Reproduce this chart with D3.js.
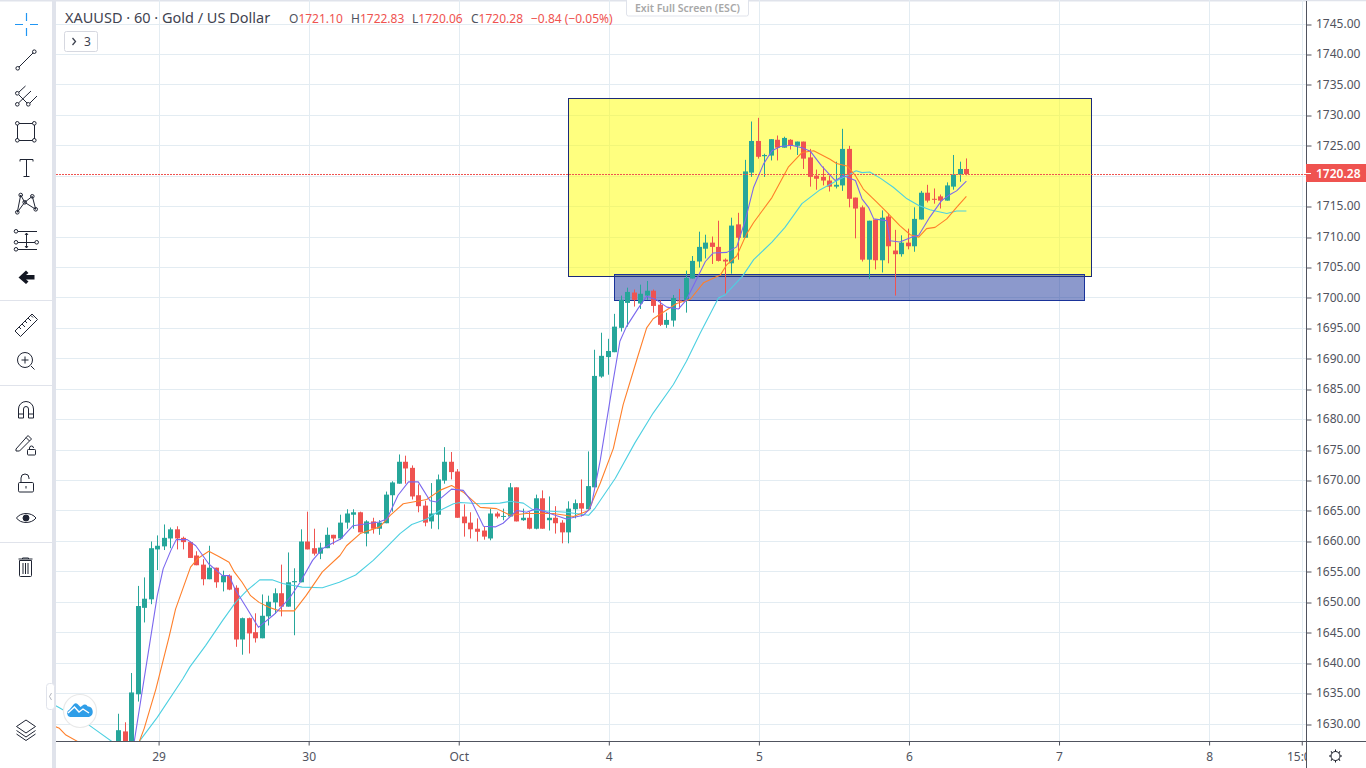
<!DOCTYPE html>
<html><head><meta charset="utf-8">
<script src="https://cdn.jsdelivr.net/npm/d3@7/dist/d3.min.js"></script>
<style>html,body{margin:0;padding:0;background:#fff;overflow:hidden}svg{display:block}text{font-family:"Noto Sans",Roboto,sans-serif}</style>
</head><body><svg id="c" width="1366" height="768"></svg>
<script>
const opens=[1626,1628.7,1626,1634.8,1649,1650.4,1658.6,1659.1,1660.4,1661.9,1660.5,1659.8,1657.6,1656.1,1653.7,1655.6,1653.2,1654.3,1652.3,1643.8,1647.3,1645,1644,1647.6,1649.9,1651.4,1649.2,1653.2,1653.2,1659.9,1658.8,1657.9,1658.8,1661,1660.4,1663,1664.3,
1664.7,1661.2,1663.2,1662,1662.9,1667.5,1669.4,1673,1672,1667.5,1665.8,1663.2,1664.3,1669.9,1673,1671.4,1664,1663,1662,1661.7,1660.4,1664.5,1664,1664,1668.8,1663.4,1663.8,1662,1667,1663.4,1663.8,1663,1661.4,1665.2,1666.2,1665.2,
1668.8,1687,1690.2,1691,1695,1699.1,1700.8,1699,1700.3,1701.1,1698.8,1695.5,1696.2,1699.5,1699.6,1703.1,1705.9,1708,1709,1708.3,1706.2,1705.6,1712,1709.8,1720.5,1725.7,1723.2,1723.3,1725.9,1724.6,1725.9,1724.9,1725.6,1723,1720,1719.8,1719.2,1718.2,1718.4,1724.4,1716.4,1714.8,1706.2,1712.8,1706.1,1713.3,1707.7,1707.1,1709,1708.4,1712.8,1717.2,1716.2,1716.6,1715.9,1718.2,1720.2,1721.1];
const highs=[1631.6,1630.2,1638.3,1652.6,1654,1659.9,1660.9,1662.7,1662.2,1662.4,1660.7,1659.9,1658.3,1657,1659.2,1655.6,1655.1,1654.5,1652.7,1647.4,1647.4,1648.1,1651.2,1651,1652.2,1656.1,1658.1,1655.5,1661.9,1664.8,1662,1659.7,1662.2,1661,1664.3,1665.2,1665.2,
1664.8,1663.4,1663.8,1663.4,1668.1,1669.8,1674.2,1674,1672.4,1669.3,1666.6,1669.5,1670.9,1675.4,1674.6,1671.8,1666,1664.7,1663.7,1662.4,1665.3,1664.8,1665.3,1669.5,1668.8,1665.3,1664.8,1667.6,1668.3,1667.3,1665.7,1663.4,1666.5,1666.8,1670.1,1674.7,
1691.4,1694.2,1693.2,1697.3,1700.3,1701.6,1701.3,1702.1,1702.7,1701.3,1699.5,1697.5,1700.4,1701.4,1704.4,1706.8,1710.8,1710.3,1710,1712.6,1706.4,1713.1,1713.9,1722.6,1728.9,1729.5,1723.6,1726,1726.6,1726.4,1726,1725.6,1725.6,1724.4,1721,1721.5,1720,1722.3,1727.7,1724.9,1716.4,1715.1,1712.6,1712.8,1714.3,1713.8,1711.1,1710.2,1711.3,1714.8,1717.5,1718.5,1717.9,1716.9,1718.9,1723.4,1722.3,1722.83];
const lows=[1625,1624.5,1624,1633.6,1646.6,1649.6,1655.2,1658.5,1658.8,1658.6,1658.6,1657.2,1656,1652.7,1653.7,1652.3,1651.7,1651.9,1642.6,1641.3,1641.5,1643.3,1644,1646.1,1648,1647.6,1649.2,1644.5,1653.2,1658.6,1657.6,1657,1658.8,1659.4,1660.2,1662,1662,
1661.4,1659.1,1661.2,1661,1662.9,1664.8,1669.4,1669.4,1666.8,1664.7,1662.4,1662,1661.9,1669.4,1670.1,1663.8,1660.7,1660.4,1659.9,1660.2,1660.1,1663.7,1663.4,1664,1663.2,1663.3,1661.9,1661.9,1662,1661.7,1661.2,1659.6,1659.6,1663.7,1664,1665.2,
1668.8,1686.8,1687.3,1691,1694.4,1695.2,1698.5,1698.1,1699.6,1697.5,1695.3,1695,1695.2,1698.1,1697.5,1703.1,1704.9,1706.4,1705.5,1705.9,1700.4,1703.9,1706.2,1709.8,1719.8,1722.8,1719.8,1722.5,1722.5,1724.6,1724.3,1723.4,1721.1,1718.2,1717.7,1718.4,1717.4,1717.9,1717.5,1714.8,1709.7,1705.9,1703,1704.6,1704.1,1705.6,1700.3,1706.7,1707.9,1707.5,1712.8,1715.6,1715.4,1714.6,1715.9,1717.7,1719,1720.06];
const closes=[1628.9,1625,1635.1,1649.3,1650.5,1658.8,1659.2,1660.5,1661.9,1660.4,1659.8,1657.2,1656,1653.7,1655.6,1653.2,1654.3,1652,1643.8,1647.3,1644.8,1644,1647.7,1650,1651.4,1649.2,1653.2,1653.4,1659.9,1658.6,1657.9,1658.9,1661,1660.4,1663,1664.5,1664.7,
1661.4,1663.2,1662,1663,1667.6,1669.6,1673,1671.9,1667.3,1665.7,1663,1664.5,1670.1,1673,1671.3,1663.8,1662.9,1661.9,1661.5,1660.7,1664.5,1664,1664.1,1668.8,1663.2,1663.8,1662,1667,1662,1663.8,1662.9,1661.4,1665.3,1666.2,1665.3,1669,
1687.1,1690.4,1691.2,1695.2,1699.6,1700.9,1699.6,1700.6,1701.1,1698.6,1695.5,1696.3,1699.9,1699.4,1703.2,1706,1708.3,1709,1708.3,1706,1705.9,1711.8,1709.8,1720.7,1725.7,1723.1,1723.4,1726,1724.6,1726.2,1724.9,1725.6,1722.8,1719.8,1719.5,1719.2,1718.2,1718.5,1724.4,1716.2,1714.6,1706.2,1712.6,1706.1,1713.1,1708.4,1707.1,1709,1708.4,1712.9,1717.2,1715.9,1716.1,1715.9,1718.4,1720.2,1721.1,1720.28];
const maFast=[[-9,1626.5],[-7.5,1625],[3.45,1626.9],[7,1651],[7.9,1655.4],[9.07,1658.4],[9.9,1660.2],[11.6,1660.2],[12.9,1659.2],[14.9,1656.2],[17,1654.3],[18,1654.3],[18.9,1652.1],[20.8,1648.8],[22.5,1645.8],[24.9,1647.9],[26,1649.1],[27.2,1650.5],[28.9,1653.2],[30.8,1656.8],[32.3,1658.7],[33.6,1659.5],[35.1,1660.3],[37,1662.5],[41,1663.1],[42.2,1663.6],[43.9,1667.5],[45.5,1669.7],[47,1669.7],[48.8,1666.6],[49.8,1666.4],[52.1,1668.5],[53.9,1668.3],[55.2,1666.4],[57,1662.4],[58.8,1662.3],[60,1662.9],[62.1,1665],[63.6,1664.7],[65.1,1665.3],[67.2,1664.5],[69.7,1663.6],[72.3,1664.2],[73.3,1665.3],[73.6,1666.2],[74.9,1673.3],[76.9,1686.5],[77.9,1692.8],[78.9,1695.2],[80.7,1698.2],[82,1700.2],[83.5,1699.6],[85.1,1698.4],[86.9,1698.1],[88.1,1699.6],[91,1705.9],[92.2,1707.3],[94.3,1707.4],[95.8,1708.3],[97.1,1712.6],[98.4,1718.1],[99.9,1721.9],[101.2,1724.1],[102.5,1724.8],[104.2,1725],[105.8,1724.6],[107.1,1724],[108.8,1721.6],[110.9,1719.2],[112.2,1720],[114,1719.2],[115,1716.2],[116,1714.8],[116.8,1712.9],[118.8,1712.6],[119.3,1709.3],[120.8,1709.1],[122.6,1709.9],[123.7,1710.2],[125.4,1713.2],[127.2,1715.9],[128.5,1716.9],[129.5,1717.5],[131,1719.1]];
const maMid=[[-9,1629.7],[-8,1629.2],[-7,1628.1],[-5.3,1627.1],[-3,1625],[3,1625],[4.2,1626.9],[5,1629.2],[6.8,1635.7],[8.8,1644.2],[9.8,1648.8],[11.1,1652.7],[12.1,1655.7],[13.2,1657.1],[14.9,1658.3],[16.5,1657.4],[18,1656.5],[18.8,1654.9],[20,1653.2],[21.3,1651],[22.6,1649.9],[24.1,1649.1],[25.7,1648.5],[28,1648.5],[29.8,1651],[32.3,1654.9],[35,1657.6],[36,1659.2],[38.1,1661.2],[41.1,1662.3],[42.7,1664.2],[44.7,1666.1],[48.3,1666.8],[50.3,1668.3],[52.1,1669.1],[53.9,1668],[56.5,1665.5],[59,1665.3],[61.1,1664.2],[63.6,1664.5],[67.7,1664.5],[70.8,1664],[73.1,1665],[74.9,1669.5],[76.9,1675.2],[78.4,1682.4],[80.5,1689.8],[82,1695],[83,1696.5],[84.3,1697.4],[86.6,1699],[88.7,1699.7],[90.7,1702.4],[93.3,1703.7],[94.3,1705.4],[95.8,1706.8],[97.3,1710.4],[98.4,1712.3],[101.2,1716.4],[103.7,1721.4],[105.8,1723.8],[107.6,1724.1],[110.1,1722.7],[111.1,1722],[112.7,1721.6],[114,1720],[115.2,1717.8],[117.3,1715.6],[118.8,1714],[120.8,1711.8],[122.4,1710.3],[123.7,1709.9],[124.9,1711.3],[126.2,1711.5],[128,1712.9],[129.5,1714.8],[131,1716.6]];
const maSlow=[[-9,1633.2],[-8,1632.6],[-3.4,1629.7],[0.1,1627],[1.5,1626],[3,1626],[4.2,1627],[7,1631],[10.9,1637.3],[12,1639.3],[14.4,1642.8],[17,1646.9],[19,1649.9],[20.8,1651.9],[22.7,1653.6],[24.6,1653.6],[26.2,1653],[29.2,1652.4],[32.3,1652.3],[34.9,1653.2],[37.4,1654.4],[40.1,1656.8],[42.2,1659],[44.2,1661.2],[46,1662.7],[48.3,1663.6],[50.3,1665],[52.4,1666.1],[53.4,1666.3],[56.5,1666.1],[59.5,1666.2],[61.1,1666.5],[63.1,1666.2],[64.6,1665.1],[66.7,1664.9],[69.7,1664.7],[73.1,1664.2],[74.1,1665.4],[77.2,1670.3],[80.2,1676.1],[83,1681],[86.1,1685.7],[88.1,1689.5],[90.2,1694.1],[93,1699.9],[94,1700.4],[96.7,1703.5],[98.4,1706.2],[101.2,1709.1],[103.2,1711.5],[105.8,1715.4],[108.6,1717.7],[111.7,1719.5],[112.7,1720],[114.1,1720.8],[115,1720.5],[116.2,1720.6],[117.8,1719.6],[119.8,1718.1],[121.9,1716.2],[123.7,1715.1],[125.4,1714.4],[128,1713.8],[129.5,1714.2],[131,1714.2]];
const priceTicks=[1745,1740,1735,1730,1725,1720,1715,1710,1705,1700,1695,1690,1685,1680,1675,1670,1665,1660,1655,1650,1645,1640,1635,1630];
const timeTicks=[7.2,30.2,53.2,76.2,99.2,122.2,145.2,168.2,182.4];
const timeLabels=["29","30","Oct","4","5","6","7","8","15:00"];
const lastPrice=1720.28;
const zoneYellow={i0:70,i1:150.2,p0:1732.84,p1:1703.6};
const zoneBlue={i0:77,i1:149.1,p0:1703.85,p1:1699.5};
const legendOHLC=[["O","1721.10",289],["H","1722.83",351],["L","1720.06",412],["C","1720.28",471]];

const svg=d3.select("#c");
const x=d3.scaleLinear().domain([0,100]).range([111.6,764.1]);
const y=d3.scaleLinear().domain([1745,1630]).range([23.5,723.5]);
const GRID="#e3ecf2",AX="#50535e",UP="#26a69a",DN="#ef5350";
svg.append("defs").append("clipPath").attr("id","plot").append("rect").attr("x",56).attr("y",0).attr("width",1250).attr("height",741);
svg.append("rect").attr("x",0).attr("y",0).attr("width",1366).attr("height",1.5).attr("fill","#e0e3eb");
const plot=svg.append("g").attr("clip-path","url(#plot)");
// grid
plot.selectAll(".gh").data(priceTicks).join("line").attr("x1",56).attr("x2",1306).attr("y1",d=>Math.round(y(d))+.5).attr("y2",d=>Math.round(y(d))+.5).attr("stroke",GRID);
plot.selectAll(".gv").data(timeTicks).join("line").attr("y1",0).attr("y2",741).attr("x1",d=>Math.round(x(d))+.5).attr("x2",d=>Math.round(x(d))+.5).attr("stroke",GRID);
// zones
[[zoneYellow,"#ffff00",.5,"#1b2a7a"],[zoneBlue,"#1a3399",.5,"#1a3399"]].forEach(([z,f,o,s])=>{
 plot.append("rect").attr("x",Math.round(x(z.i0))+.5).attr("y",Math.round(y(z.p0))+.5)
  .attr("width",Math.round(x(z.i1)-x(z.i0))).attr("height",Math.round(y(z.p1)-y(z.p0)))
  .attr("fill",f).attr("fill-opacity",o).attr("stroke",s).attr("stroke-width",1);
});
// candles
const idx=d3.range(closes.length);
const cx=i=>Math.round(x(i+1));
const color=i=>closes[i]>=opens[i]?UP:DN;
plot.selectAll(".w").data(idx).join("line").attr("x1",i=>cx(i)+.5).attr("x2",i=>cx(i)+.5).attr("y1",i=>y(highs[i])).attr("y2",i=>y(lows[i])).attr("stroke",color);
plot.selectAll(".b").data(idx).join("rect").attr("x",i=>cx(i)-2).attr("width",5)
 .attr("y",i=>y(Math.max(opens[i],closes[i]))).attr("height",i=>Math.max(1,Math.abs(y(opens[i])-y(closes[i])))).attr("fill",color);
// moving averages
const ln=d3.line().x(d=>x(d[0])).y(d=>y(d[1]));
[[maSlow,"#4dd0e1"],[maMid,"#ff7f2a"],[maFast,"#7b68ee"]].forEach(([s,c])=>plot.append("path").attr("d",ln(s)).attr("fill","none").attr("stroke",c).attr("stroke-width",1.1).attr("stroke-linejoin","round"));
// last price line
plot.append("line").attr("x1",56).attr("x2",1306).attr("y1",Math.round(y(lastPrice))+.5).attr("y2",Math.round(y(lastPrice))+.5).attr("stroke",DN).attr("stroke-dasharray","2,1");
// axes
svg.append("rect").attr("x",1307).attr("y",1.5).attr("width",59).attr("height",767).attr("fill","#fff");
svg.append("rect").attr("x",56).attr("y",742).attr("width",1310).attr("height",26).attr("fill","#fff");
const ay=svg.append("g").attr("transform","translate(1306.5,0)").call(d3.axisRight(y).tickValues(priceTicks).tickSize(5).tickPadding(5).tickFormat(d3.format(".2f")));
ay.select(".domain").remove();
ay.selectAll("line").attr("stroke",AX).attr("transform",d=>`translate(0,${Math.round(y(d))+.5-y(d)})`);
ay.selectAll("text").attr("fill",AX).style("font-size","12px").style("font-family","'Noto Sans'").attr("x",9.5);
svg.append("clipPath").attr("id","tx").append("rect").attr("x",56).attr("y",742).attr("width",1250).attr("height",26);
const ax=svg.append("g").attr("clip-path","url(#tx)").append("g").attr("transform","translate(0,741.5)").call(d3.axisBottom(x).tickValues(timeTicks).tickSize(4).tickPadding(7).tickFormat((d,i)=>timeLabels[i]));
ax.select(".domain").remove();
ax.selectAll("line").attr("stroke",AX);
ax.selectAll("text").attr("fill",AX).style("font-size","12px").style("font-family","'Noto Sans'");
svg.append("line").attr("x1",56).attr("x2",1366).attr("y1",741.5).attr("y2",741.5).attr("stroke",AX);
svg.append("line").attr("x1",1306.5).attr("x2",1306.5).attr("y1",1).attr("y2",768).attr("stroke",AX);
// last label
svg.append("rect").attr("x",1306).attr("y",164).attr("width",60).attr("height",18).attr("fill",DN);
svg.append("line").attr("x1",1306).attr("x2",1311).attr("y1",173.5).attr("y2",173.5).attr("stroke","#fff");
svg.append("text").attr("x",1316).attr("y",177.5).attr("fill","#fff").style("font-size","12px").style("font-weight","600").text(lastPrice.toFixed(2));
// legend
svg.append("text").attr("x",65).attr("y",23).attr("fill","#3f4350").style("font-size","14.5px").text("XAUUSD · 60 · Gold / US Dollar");
legendOHLC.forEach(([k,v,px])=>{
 const t=svg.append("text").attr("x",px).attr("y",23).style("font-size","12px");
 t.append("tspan").attr("fill",AX).text(k);
 t.append("tspan").attr("fill",DN).text(v);
});
svg.append("text").attr("x",531).attr("y",23).attr("fill",DN).style("font-size","12px").text("−0.84 (−0.05%)");
svg.append("rect").attr("x",64.5).attr("y",31.5).attr("width",33).attr("height",20).attr("rx",2).attr("fill","#fff").attr("stroke","#d6d8e0");
svg.append("path").attr("d","M72.5 38l3 3.5-3 3.5").attr("fill","none").attr("stroke","#3f4350").attr("stroke-width",1.3);
svg.append("text").attr("x",84).attr("y",46).attr("fill","#3f4350").style("font-size","12px").text("3");
svg.append("rect").attr("x",626.5).attr("y",-3).attr("width",122).attr("height",19).attr("rx",2).attr("fill","#fff").attr("stroke","#e0e3eb");
svg.append("text").attr("x",687.5).attr("y",12).attr("text-anchor","middle").attr("fill","#a8a8a8").style("font-size","10.5px").style("font-weight","600").text("Exit Full Screen (ESC)");
// toolbar
svg.append("rect").attr("x",52).attr("y",0).attr("width",4).attr("height",768).attr("fill","#e0e3eb");
[0,101,385,542].forEach(v=>{});
[[300],[385],[542]].forEach(([v])=>svg.append("line").attr("x1",0).attr("x2",52).attr("y1",v+.5).attr("y2",v+.5).attr("stroke","#e0e3eb"));
const I=svg.append("g").attr("fill","none").attr("stroke","#1f2433").attr("stroke-width",1);
const p=d=>I.append("path").attr("d",d);
const c=(a,b,r=1.8)=>I.append("circle").attr("cx",a).attr("cy",b).attr("r",r);
// crosshair
I.append("path").attr("stroke","#2196f3").attr("stroke-width",1.2).attr("d","M15 24.5h8M30 24.5h8M26.5 13v8M26.5 28v8");
// trend
p("M19 67L33 53");c(17.7,68.3);c(34.3,51.7);
// fork
p("M19 92L25.5 86M18.5 103L31 91M30 103L37 96M19 95L27 103");c(17.3,93.3);c(17.3,104.3);c(28.3,104.3);
// rect
p("M19 123.5H32.5M19 140.5H32.5M17.5 125V139M34.5 125V139");c(17.3,123.3);c(34.3,123.3);c(17.3,140.3);c(34.3,140.3);
// T
p("M20 159.5H33M20 159.5v2M33 159.5v2M26.5 159.5V176.5M23.5 176.5H29.5");
// pattern
p("M17.3 212.3L20.7 195L24.7 202.3L32.3 196.3L35.7 209.3L24.7 202.3L17.3 212.3");c(17.3,212.3);c(20.7,195);c(24.7,202.3);c(32.3,196.3);c(35.7,209.3);
// fib
p("M18 231.5H37M18 242.5H35M18 249.5H37M26.5 233V248M25 235l1.5-2 1.5 2M25 246l1.5 2 1.5-2");c(16,231.3);c(16,242.3);c(16,249.3);c(36.7,242.3);
// back arrow
I.append("path").attr("fill","#131722").attr("stroke","none").attr("d","M26 270.5l2.5 2.5-2.5 2h8.5v4.5H26l2.5 2-2.5 2.5-7.5-6.5z");
// ruler
p("M15 331L32 314L37.5 319.5L20.5 336.5ZM19 327l2 2M22 324l3 3M25 321l2 2M28 318l3 3M31 315.5l2 2");
// zoom
c(25,360,7.5);p("M31 366L34.5 369.5M21.5 360h7M25 356.5v7");
// magnet
p("M18.5 418V409a7.5 7.5 0 0 1 15 0V418H28.5V409a2.5 2.5 0 0 0-5 0V418ZM18.5 414H23.5M28.5 414H33.5");
// pencil + lock
p("M16 449L28 435.5L31.5 439L19.5 451H16ZM26 437.5L29.5 441");
I.append("rect").attr("x",27.5).attr("y",449.5).attr("width",8).attr("height",5.5).attr("rx",.8);p("M29.5 449.5v-1.5a2 2 0 0 1 4 0");
// lock
I.append("rect").attr("x",18.5).attr("y",482.5).attr("width",15).attr("height",9.5).attr("rx",1.2);p("M21 482.5V478a4 4 0 0 1 8 0v1M26 486v2.5");
// eye
p("M16.5 518c4-6 15-6 19.5 0-4.5 6-15.5 6-19.5 0Z");I.append("circle").attr("cx",26).attr("cy",518).attr("r",3).attr("fill","#1f2433");
// trash
p("M19.5 560.5V575.5a1 1 0 0 0 1 1H30.5a1 1 0 0 0 1-1V560.5ZM18.5 559H32.5M22.5 559V558H28.5V559M23 563V574M25.5 563V574M28 563V574");
// layers
p("M26 720L35.5 726.5L26 733L16.5 726.5ZM16.5 730.5L26 737L35.5 730.5M16.5 734L26 740.5L35.5 734");
// gear
const G=svg.append("g").attr("transform","translate(1335.5,756)").attr("fill","none").attr("stroke","#131722");
G.append("circle").attr("r",4.5);
d3.range(8).forEach(k=>G.append("line").attr("x1",4.5).attr("x2",6.5).attr("transform",`rotate(${k*45})`));
// collapse handle
svg.append("rect").attr("x",46.5).attr("y",683.5).attr("width",8).attr("height",26).attr("rx",3).attr("fill","#fff").attr("stroke","#e0e3eb");
svg.append("path").attr("d","M51.5 693l-2 3.5 2 3.5").attr("fill","none").attr("stroke","#b2b5be");
// logo
svg.append("circle").attr("cx",80).attr("cy",711).attr("r",16.5).attr("fill","#fff").attr("stroke","#e9e9e9").attr("stroke-width",1.2);
svg.append("path").attr("fill","#2f9ee8").attr("d","M70 717a4 4 0 0 1-.5-7.5L74 704a2.5 2.5 0 0 1 3.5 0l3 3 2-1.5a3 3 0 0 1 5 .8a5.5 5.5 0 0 1 1.5 10.7Z");
svg.append("path").attr("fill","none").attr("stroke","#fff").attr("stroke-width",1.4).attr("d","M68 713l6.5-6 4.5 5 4-3 6 4");
</script></body></html>
